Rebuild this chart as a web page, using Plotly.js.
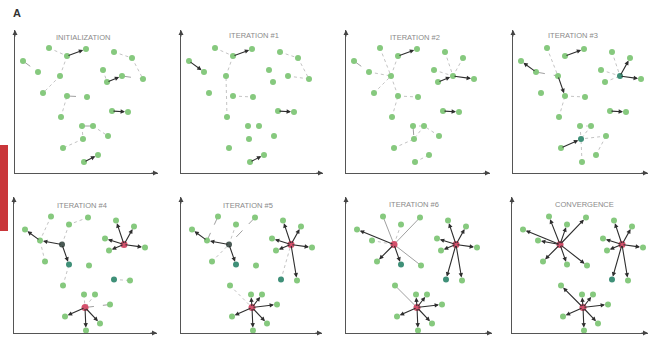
<!DOCTYPE html>
<html><head><meta charset="utf-8">
<script src="https://cdn.plot.ly/plotly-3.0.1.min.js"></script>
<style>html,body{margin:0;padding:0;background:#fff}#chart{width:652px;height:344px}</style>
</head><body><div id="chart"></div>
<script>
// ---- data ----
const ptX = [34,52,71,8,23,45,28,52,72,46,99,117,88,92,107,128,97,113,67,78,93,68,48,69,83];
const ptY = [125,117,124,112,101,97,80,77,76,56,121,115,103,91,97,94,62,61,47,47,37,34,25,11,18];
const titles = ["INITIALIZATION","ITERATION #1","ITERATION #2","ITERATION #3","ITERATION #4","ITERATION #5","ITERATION #6","CONVERGENCE"];
const faintLinks = [
  [[0,1],[1,5],[5,6],[9,7],[10,11],[11,15],[12,13],[18,21],[19,20],[21,22]],
  [[0,1],[7,8],[9,5],[10,11],[11,15],[14,15],[5,1]],
  [[4,5],[0,5],[1,5],[5,7],[6,5],[7,8],[9,7],[10,14],[11,14],[12,14],[18,19],[19,21],[22,21],[20,19],[23,24]],
  [[0,5],[10,14],[12,14],[13,14],[7,8],[18,19],[18,21],[19,21],[20,21],[9,7],[23,21],[24,20]],
  [[0,4],[6,4],[2,1],[9,7],[16,17],[18,21],[19,21],[1,5]],
  [[6,5],[9,21],[16,14],[1,5]],
  [[1,5],[4,5]],
  []
];
const midLinks = [
  [[3,4],[7,8],[14,15],[18,19]],
  [],
  [[3,4],[18,21]],
  [[4,5]],
  [[21,20]],
  [[0,4],[2,5]],
  [[5,0],[5,2],[5,8],[21,9]],
  []
];
const darkLinks = [
  [[1,2],[13,14],[16,17],[23,24]],
  [[1,2],[3,4],[16,17],[23,24]],
  [[1,2],[13,14],[14,15],[16,17]],
  [[4,3],[5,7],[1,2],[14,11],[14,15],[16,17],[22,21]],
  [[4,3],[5,4],[5,7],[14,10],[14,11],[14,12],[14,13],[14,15],[21,22],[21,23],[21,24]],
  [[4,3],[5,4],[5,7],[14,10],[14,11],[14,12],[14,13],[14,15],[14,17],[21,18],[21,19],[21,20],[21,22],[21,23],[21,24]],
  [[5,3],[5,6],[5,7],[14,10],[14,11],[14,12],[14,13],[14,15],[14,16],[14,17],[21,18],[21,19],[21,20],[21,22],[21,23],[21,24]],
  [[5,0],[5,1],[5,2],[5,3],[5,4],[5,6],[5,7],[5,8],[14,10],[14,11],[14,12],[14,13],[14,15],[14,16],[14,17],[21,9],[21,18],[21,19],[21,20],[21,22],[21,23],[21,24]]
];
const redPts = [[],[],[],[],[14,21],[14,21],[5,14,21],[5,14,21]];
const tealPts = [[],[],[],[14,21],[16,7],[16,7],[16,7],[16]];
const darkPts = [[],[],[],[],[5],[5],[],[]];

// ---- layout geometry ----
const W = 652, H = 344;
const geom = [
  {ox:15, xe:158, oy:173, yt:30, dx:0, dy:0, tx:83, ty:38},
  {ox:181, xe:323, oy:173, yt:30, dx:0, dy:0, tx:254, ty:36},
  {ox:346, xe:490, oy:173, yt:30, dx:0, dy:0, tx:415, ty:38},
  {ox:513, xe:648, oy:173, yt:30, dx:0, dy:0, tx:573, ty:36},
  {ox:14, xe:157, oy:333, yt:197, dx:-3, dy:8.5, tx:82, ty:206},
  {ox:181, xe:322, oy:333, yt:197, dx:-3, dy:8.5, tx:248, ty:206},
  {ox:346, xe:492, oy:333, yt:197, dx:-3, dy:8.5, tx:414, ty:205},
  {ox:512, xe:648, oy:333, yt:197, dx:-3, dy:8.5, tx:584, ty:205}
];
const GREEN = '#86c97e', RED = '#d4506c', TEAL = '#3f9078', DARK = '#4a5a55';

const traces = [], annotations = [], layout = {
  width: W, height: H, margin: {l:0, r:0, t:0, b:0},
  paper_bgcolor: '#fff', plot_bgcolor: '#fff', showlegend: false,
  font: {family: 'Liberation Sans, Arial, sans-serif'},
  shapes: [{type:'rect', xref:'paper', yref:'paper', x0:0, x1:8/W, y0:1-231/H, y1:1-145/H,
            fillcolor:'#c9363a', line:{width:0}, layer:'above'}]
};

function linkXY(links) {
  const x = [], y = [];
  links.forEach(([a,b]) => { x.push(ptX[a], ptX[b], null); y.push(ptY[a], ptY[b], null); });
  return {x, y};
}

geom.forEach((g, p) => {
  const k = p + 1, sfx = k === 1 ? '' : String(k), xa = 'x' + sfx, ya = 'y' + sfx;
  layout['xaxis' + sfx] = {domain:[g.ox/W, g.xe/W], range:[g.dx, g.dx + (g.xe - g.ox)], anchor: ya,
    showline:true, linecolor:'#555', linewidth:1, showgrid:false, zeroline:false,
    showticklabels:false, ticks:'', fixedrange:true};
  layout['yaxis' + sfx] = {domain:[1 - g.oy/H, 1 - g.yt/H], range:[g.dy, g.dy + (g.oy - g.yt)], anchor: xa,
    showline:true, linecolor:'#555', linewidth:1, showgrid:false, zeroline:false,
    showticklabels:false, ticks:'', fixedrange:true};

  const f = linkXY(faintLinks[p]);
  traces.push({type:'scatter', mode:'lines', x:f.x, y:f.y, xaxis:xa, yaxis:ya,
    line:{color:'#c4c4c4', width:1, dash:'dot'}, hoverinfo:'skip'});
  const m = linkXY(midLinks[p]);
  traces.push({type:'scatter', mode:'lines', x:m.x, y:m.y, xaxis:xa, yaxis:ya,
    line:{color:'#a0a0a0', width:1, dash: p >= 6 ? 'solid' : 'dash'}, hoverinfo:'skip'});

  darkLinks[p].forEach(([a,b]) => {
    annotations.push({xref:xa, yref:ya, axref:xa, ayref:ya, x:ptX[b], y:ptY[b], ax:ptX[a], ay:ptY[a],
      text:'', showarrow:true, arrowhead:2, arrowsize:0.8, arrowwidth:1.1, arrowcolor:'#2e2e2e', standoff:3});
  });

  const special = new Set([...redPts[p], ...tealPts[p], ...darkPts[p]]);
  const gi = ptX.map((_, i) => i).filter(i => !special.has(i));
  traces.push({type:'scatter', mode:'markers', x:gi.map(i => ptX[i]), y:gi.map(i => ptY[i]),
    xaxis:xa, yaxis:ya, marker:{color:GREEN, size:6}, hoverinfo:'skip', cliponaxis:false});
  [[tealPts[p], TEAL, 6], [darkPts[p], DARK, 6], [redPts[p], RED, 7]].forEach(([arr, col, sz]) => {
    traces.push({type:'scatter', mode:'markers', x:arr.map(i => ptX[i]), y:arr.map(i => ptY[i]),
      xaxis:xa, yaxis:ya, marker:{color:col, size:sz}, hoverinfo:'skip', cliponaxis:false});
  });

  // axis arrowheads
  annotations.push({xref:'paper', yref:'paper', x:g.xe/W, y:1 - g.oy/H, ax:-8, ay:0, text:'',
    showarrow:true, arrowhead:2, arrowsize:1, arrowwidth:1, arrowcolor:'#444'});
  annotations.push({xref:'paper', yref:'paper', x:g.ox/W, y:1 - g.yt/H, ax:0, ay:8, text:'',
    showarrow:true, arrowhead:2, arrowsize:1, arrowwidth:1, arrowcolor:'#444'});
  // panel title
  annotations.push({xref:'paper', yref:'paper', x:g.tx/W, y:1 - g.ty/H, text:titles[p], showarrow:false,
    xanchor:'center', yanchor:'middle', font:{size:7.5, color:'#8a8a8a', family:'Liberation Sans, Arial, sans-serif'}});
});

annotations.push({xref:'paper', yref:'paper', x:11/W, y:1 - 13/H, text:'<b>A</b>', showarrow:false,
  xanchor:'left', yanchor:'middle', font:{size:11, color:'#333'}});
layout.annotations = annotations;

Plotly.newPlot('chart', traces, layout, {staticPlot:true, displayModeBar:false});
</script></body></html>
